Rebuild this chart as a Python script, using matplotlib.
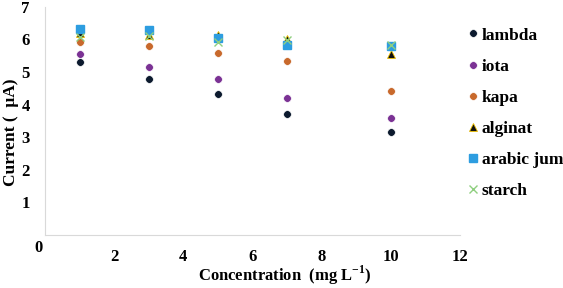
import matplotlib
matplotlib.use('Agg')
import matplotlib.pyplot as plt

plt.rcParams['font.family'] = ['Liberation Serif', 'DejaVu Serif']
plt.rcParams['font.weight'] = 'bold'

# concentration (mg/L)
conc = [1, 3, 5, 7, 10]
# current (uA)
lam = [5.31, 4.79, 4.32, 3.70, 3.15]
iota = [5.54, 5.16, 4.79, 4.21, 3.59]
kapa = [5.92, 5.80, 5.60, 5.35, 4.43]
alginat = [6.20, 6.15, 6.13, 6.02, 5.54]
arabic = [6.31, 6.29, 6.06, 5.83, 5.80]
starch = [6.08, 6.11, 5.93, 5.97, 5.83]

xticks = [2, 4, 6, 8, 10, 12]
yticks = [1, 2, 3, 4, 5, 6, 7]

fig = plt.figure(figsize=(5.63, 2.88), dpi=100)
ax = fig.add_axes([0.08, 0.184, 0.737, 0.792])

ms = 5.5
ax.plot(conc, lam, 'o', color='#0c1a2e', mec='white', mew=0.4, ms=ms, label='lambda')
ax.plot(conc, iota, 'o', color='#7b3294', mec='white', mew=0.4, ms=ms, label='iota')
ax.plot(conc, kapa, 'o', color='#c8692c', mec='white', mew=0.4, ms=ms, label='kapa')
ax.plot(conc, alginat, '^', color='#111111', mec='#f2c200', mew=0.6, ms=ms, label='alginat')
ax.plot(conc, arabic, 's', color='#2d9de0', mec='#2d9de0', ms=ms, label='arabic jum')
ax.plot(conc, starch, 'x', color='#8fcf80', mew=1.0, ms=ms + 0.5, label='starch')

ax.set_xlim(0, 12)
ax.set_ylim(0, 7)
ax.set_xticks(xticks)
ax.set_yticks(yticks)
ax.tick_params(length=0, labelsize=12)
ax.tick_params(axis='x', pad=10)
ax.tick_params(axis='y', pad=11)
for s in ['top', 'right']:
    ax.spines[s].set_visible(False)
for s in ['left', 'bottom']:
    ax.spines[s].set_color('#d9d9d9')
# the stray zero label
ax.text(-0.2, -0.4, '0', fontsize=12, ha='center', va='center', fontweight='bold')

ax.set_ylabel('Current (  \u03bcA)', fontsize=12.5, fontweight='bold')
ax.yaxis.set_label_coords(-0.063, 0.45)
ax.set_xlabel('Concentration  (mg L$^{\\mathregular{-1}}$)', fontsize=12,
              fontweight='bold')
ax.xaxis.set_label_coords(0.578, -0.125)

fig.legend(loc='upper left', bbox_to_anchor=(0.825, 0.905), frameon=False,
           fontsize=12.5, handletextpad=0.0, labelspacing=0.86, handlelength=1.0,
           borderpad=0, borderaxespad=0)

fig.savefig('out.png', dpi=100)
